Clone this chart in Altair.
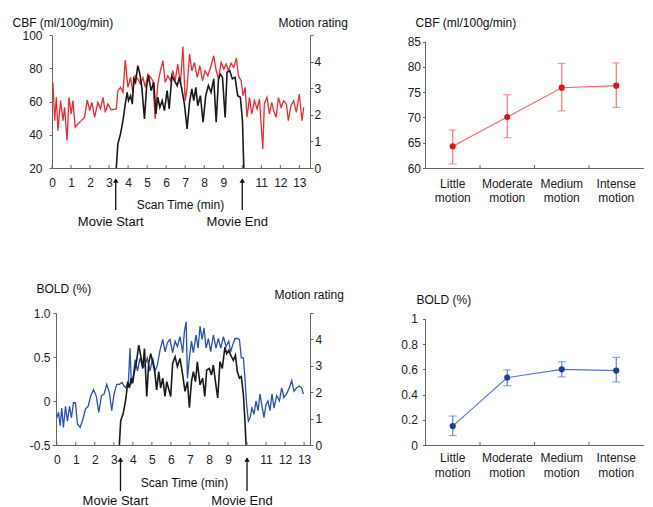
import altair as alt
import pandas as pd

FONT = "Liberation Sans, Arial, sans-serif"

# ---------------- data ----------------
time_ticks = list(range(14))
events = ["Movie Start", "Movie End"]
event_t = [3.35, 10.0]

cbf_t = [0.05, 0.14, 0.23, 0.31, 0.45, 0.58, 0.66, 0.79, 0.89, 1.01, 1.10, 1.22, 1.36, 1.54, 1.71, 1.85, 1.98,
         2.10, 2.24, 2.41, 2.55, 2.68, 2.80, 2.94, 3.11, 3.38, 3.46, 3.60, 3.73, 3.85, 3.99, 4.13, 4.25, 4.37,
         4.51, 4.65, 4.78, 4.90, 5.04, 5.18, 5.30, 5.42, 5.56, 5.70, 5.83, 5.95, 6.09, 6.23, 6.35, 6.47, 6.61,
         6.75, 6.88, 7.00, 7.10, 7.23, 7.35, 7.49, 7.63, 7.77, 7.91, 8.05, 8.19, 8.36, 8.50, 8.63, 8.75, 8.89,
         9.03, 9.15, 9.27, 9.41, 9.55, 9.69, 9.80, 9.94, 10.04, 10.15, 10.25, 10.38, 10.50, 10.64, 10.78, 10.90,
         11.08, 11.16, 11.30, 11.43, 11.55, 11.65, 11.78, 11.90, 12.04, 12.18, 12.32, 12.42, 12.56, 12.70,
         12.84, 13.00, 13.14, 13.23]
cbf_v = [71.5, 48.5, 62.5, 42.5, 60.5, 48.5, 56.5, 36.5, 62.5, 52.5, 60.5, 44.5, 46.5, 48.5, 50.5, 61, 54.5,
         59.5, 50.5, 59.5, 55.5, 62.5, 53.5, 58.5, 55, 55.5, 66.5, 68.5, 65.5, 85, 68.5, 74.5, 65.5, 75.5,
         73.5, 70.5, 74.5, 68.5, 76.5, 74.5, 72.5, 49.5, 70.5, 78.5, 84.5, 71.5, 75.5, 72.5, 78.5, 72.5, 82.5,
         70.5, 93, 60.5, 68.5, 88.5, 78.5, 83.5, 74.5, 81.5, 72.5, 78.5, 75.5, 81.5, 87.5, 78.5, 73.5, 83.5,
         79.5, 82.5, 78.5, 83, 80.5, 86, 75.5, 72.5, 63.5, 68.5, 50.5, 62.5, 52.5, 60.5, 55.5, 61.5,
         31.5, 58.5, 62.5, 52.5, 59.5, 54.5, 50.5, 62.5, 56.5, 60.5, 58.5, 48.5, 57.5, 60.5,
         53.5, 64.5, 48.5, 56.5]

motion1_t = [3.38, 3.46, 3.60, 3.73, 3.85, 3.95, 4.02, 4.13, 4.22, 4.30, 4.39, 4.51, 4.62, 4.72, 4.86, 4.97,
             5.07, 5.21, 5.35, 5.46, 5.56, 5.67, 5.79, 5.91, 6.05, 6.16, 6.30, 6.44, 6.58, 6.70, 6.82, 6.96,
             7.10, 7.23, 7.35, 7.45, 7.56, 7.66, 7.80, 7.94, 8.08, 8.22, 8.36, 8.50, 8.63, 8.75, 8.85, 8.96,
             9.10, 9.20, 9.34, 9.48, 9.62, 9.76, 9.90, 10.01, 10.08]
motion1_v = [0, 0.9, 1.28, 1.78, 2.4, 2.84, 2.53, 2.72, 2.4, 3.35, 3.22, 3.85, 3.53, 3.03, 1.84, 3.03,
             3.47, 2.91, 3.22, 2.03, 2.66, 2.28, 2.53, 2.16, 2.91, 2.22, 3.47, 3.28, 3.1, 3.41, 2.97, 2.4,
             1.47, 2.47, 2.97, 2.53, 3.03, 2.34, 2.72, 1.72, 2.72, 3.1, 2.84, 3.35, 1.72, 3.35, 3.53, 3.41,
             1.9, 3.6, 3.66, 3.35, 3.41, 2.72, 2.66, 1.78, 0]

bold_t = [0.00, 0.09, 0.18, 0.26, 0.35, 0.46, 0.56, 0.67, 0.77, 0.88, 0.98, 1.09, 1.23, 1.37, 1.51, 1.65,
          1.79, 1.93, 2.07, 2.21, 2.35, 2.49, 2.63, 2.77, 2.89, 3.01, 3.15, 3.29, 3.43, 3.54, 3.64, 3.77,
          3.85, 3.92, 4.03, 4.12, 4.24, 4.38, 4.52, 4.64, 4.76, 4.90, 5.04, 5.17, 5.29, 5.43, 5.57, 5.69,
          5.81, 5.95, 6.09, 6.22, 6.34, 6.48, 6.62, 6.71, 6.80, 6.87, 6.97, 7.08, 7.18, 7.32, 7.43, 7.53,
          7.64, 7.74, 7.85, 7.97, 8.09, 8.23, 8.37, 8.49, 8.62, 8.76, 8.90, 9.04, 9.14, 9.25, 9.37, 9.49,
          9.60, 9.70, 9.81, 9.89, 9.98, 10.07, 10.16, 10.26, 10.37, 10.47, 10.58, 10.68, 10.79, 10.89,
          11.00, 11.10, 11.21, 11.31, 11.42, 11.56, 11.70, 11.82, 11.94, 12.08, 12.22, 12.35, 12.47,
          12.61, 12.75, 12.87, 12.96]
bold_v = [-0.19, -0.13, -0.28, -0.08, -0.30, -0.06, -0.23, -0.06, -0.19, -0.02, -0.02, -0.26, -0.30, -0.21,
          -0.09, -0.06, 0.06, 0.13, 0.06, -0.13, 0.06, 0.08, 0.19, 0.09, -0.11, 0.08, 0.19, 0.19, 0.21, 0.17,
          0.15, 0.23, 0.60, 0.19, 0.30, 0.47, 0.34, 0.49, 0.38, 0.41, 0.49, 0.34, 0.49, 0.34, 0.41, 0.58,
          0.70, 0.56, 0.66, 0.70, 0.55, 0.68, 0.62, 0.73, 0.55, 0.79, 0.90, 0.26, 0.49, 0.68, 0.55, 0.75,
          0.60, 0.85, 0.70, 0.83, 0.60, 0.71, 0.56, 0.75, 0.60, 0.71, 0.60, 0.73, 0.62, 0.68, 0.56, 0.64,
          0.71, 0.71, 0.70, 0.49, 0.49, 0.26, -0.04, -0.23, -0.19, -0.08, -0.15, 0.00, -0.11, 0.08, -0.06,
          -0.19, -0.04, 0.00, -0.11, 0.08, -0.08, 0.06, 0.00, 0.15, 0.04, 0.08, 0.15, 0.23, 0.11, 0.15,
          0.17, 0.15, 0.08]

motion2_t = [3.29, 3.36, 3.50, 3.64, 3.73, 3.82, 3.91, 3.99, 4.08, 4.20, 4.31, 4.41, 4.52, 4.61, 4.73, 4.83,
             4.94, 5.04, 5.15, 5.25, 5.36, 5.46, 5.57, 5.69, 5.78, 5.87, 5.99, 6.09, 6.22, 6.34, 6.48, 6.62,
             6.74, 6.87, 6.97, 7.08, 7.18, 7.29, 7.39, 7.53, 7.67, 7.78, 7.88, 8.02, 8.13, 8.23, 8.34, 8.46,
             8.58, 8.70, 8.84, 8.93, 9.04, 9.14, 9.28, 9.39, 9.49, 9.60, 9.70, 9.81, 9.89, 9.95]
motion2_v = [0, 0.91, 1.22, 1.78, 2.4, 2.16, 2.53, 2.34, 2.78, 3.21, 3.78, 3.4, 2.9, 3.65, 1.84, 3.09,
             3.46, 3.15, 2.78, 2.09, 2.78, 2.16, 2.53, 1.84, 2.4, 2.16, 1.84, 3.09, 3.34, 2.97, 3.28, 2.65,
             2.03, 2.4, 1.41, 2.4, 2.78, 2.4, 3.15, 2.28, 2.53, 1.84, 2.84, 2.9, 2.65, 3.03, 2.4, 1.78,
             3.15, 2.9, 3.71, 3.46, 3.59, 3.4, 3.21, 3.4, 2.78, 2.53, 2.59, 1.91, 0.91, 0]

categories = ["Little motion", "Moderate motion", "Medium motion", "Intense motion"]
cbf_mean = [64.3, 70.1, 75.9, 76.3]
cbf_lo = [60.8, 66.0, 71.3, 72.0]
cbf_hi = [67.5, 74.5, 80.7, 80.8]
bold_mean = [0.15, 0.535, 0.60, 0.59]
bold_lo = [0.075, 0.47, 0.54, 0.50]
bold_hi = [0.23, 0.595, 0.66, 0.695]

LEFT_W = 258
RIGHT_W = 218


def time_panel(sig_t, sig_v, mot_t, mot_v, color, h, xdom, ydom, yvals, ylab_expr, ytitle,
               ytx, yty, ypad, yoff, rtx, rty, rpad, xtx, xty, tip, end, text_rel):
    sig_df = pd.DataFrame({"t": sig_t, "v": sig_v})
    mot_df = pd.DataFrame({"t": mot_t, "m": mot_v})
    ev_df = pd.DataFrame({"t": event_t, "label": events})
    tk_df = pd.DataFrame({"t": time_ticks})

    x = alt.X("t:Q", scale=alt.Scale(domain=xdom, nice=False, zero=False),
              axis=alt.Axis(values=time_ticks, labelExpr="datum.value == 10 ? '' : datum.label",
                            ticks=False, tickSize=0, labelPadding=9, labelOverlap=False,
                            labelFlush=False, title="Scan Time (min)", titleX=xtx, titleY=xty,
                            titleAlign="center", titleBaseline="middle"))
    sig = alt.Chart(sig_df).mark_line(color=color, strokeWidth=1.3).encode(
        x=x,
        y=alt.Y("v:Q", scale=alt.Scale(domain=ydom, nice=False, zero=False),
                axis=alt.Axis(values=yvals, labelExpr=ylab_expr, tickSize=3, labelPadding=ypad,
                              offset=yoff, title=ytitle, titleAngle=0, titleAlign="left",
                              titleBaseline="middle", titleX=ytx, titleY=yty)))
    mot = alt.Chart(mot_df).mark_line(color="#1a1a1a", strokeWidth=1.6).encode(
        x=x,
        y=alt.Y("m:Q", scale=alt.Scale(domain=[0, 5], nice=False, zero=True),
                axis=alt.Axis(orient="right", values=[0, 1, 2, 3, 4, 5],
                              labelExpr="datum.value == 5 ? '' : datum.label", tickSize=3,
                              labelPadding=rpad, title="Motion rating", titleAngle=0,
                              titleAlign="left", titleBaseline="middle", titleX=rtx, titleY=rty)))
    tk = alt.Chart(tk_df).mark_rule(color="#666", strokeWidth=1).encode(
        x=x, y=alt.value(h), y2=alt.value(h - 3))
    arrow = alt.Chart(ev_df).mark_rule(color="#111", strokeWidth=1.3).encode(
        x=x, y=alt.value(h + tip + 5), y2=alt.value(h + end))
    head = alt.Chart(ev_df).mark_point(shape="triangle-up", filled=True, color="#111", size=30,
                                       opacity=1).encode(x=x, y=alt.value(h + tip + 3.5))
    txt = alt.Chart(ev_df).mark_text(fontSize=13, dx=-5, baseline="middle", color="#111",
                                     font=FONT).encode(x=x, y=alt.value(h + text_rel),
                                                       text="label:N")
    return alt.layer(sig, mot, tk, arrow, head, txt).resolve_scale(y="independent").properties(
        width=LEFT_W, height=h)


def cat_panel(mean, lo, hi, line_color, pt_color, h, ydom, ytop, yvals, yfmt, title, ttx, tty,
              ypad, xpad, lineh):
    df = pd.DataFrame({"cat": categories, "mean": mean, "lo": lo, "hi": hi})
    base = alt.Chart(df)
    step = RIGHT_W / len(categories)
    x = alt.X("cat:N", sort=categories, scale=alt.Scale(paddingInner=0, paddingOuter=0),
              axis=alt.Axis(title=None, labelAngle=0, labelExpr="split(datum.label, ' ')",
                            ticks=False, tickSize=0, labelPadding=xpad, labelLineHeight=lineh,
                            labelBaseline="top"))
    yscale = alt.Scale(domain=ydom, nice=False, zero=False)
    yaxis = alt.Axis(values=yvals, format=yfmt, domain=False, tickSize=3, labelPadding=ypad,
                     labelOverlap=False, title=title, titleAngle=0, titleAlign="left",
                     titleBaseline="middle", titleX=ttx, titleY=tty)
    y = alt.Y("mean:Q", scale=yscale, axis=yaxis)
    yaxis_line = base.transform_filter("datum.cat == 'Little motion'").mark_rule(
        color="#666", strokeWidth=1).encode(x=alt.value(0), y=alt.Y(datum=ydom[0], axis=yaxis),
                                            y2=alt.Y2(datum=ytop))
    cat_ticks = base.transform_filter("datum.cat != 'Little motion'").mark_rule(
        color="#666", strokeWidth=1, xOffset=-step / 2).encode(x=x, y=alt.value(h), y2=alt.value(h - 3))
    line = base.mark_line(color=line_color, strokeWidth=1.1).encode(x=x, y=y)
    err = base.mark_rule(color=line_color, strokeWidth=1.1).encode(
        x=x, y=alt.Y("lo:Q", axis=yaxis), y2="hi:Q")
    cap_lo = base.mark_tick(color=line_color, size=8, thickness=1.1).encode(
        x=x, y=alt.Y("lo:Q", axis=yaxis))
    cap_hi = base.mark_tick(color=line_color, size=8, thickness=1.1).encode(
        x=x, y=alt.Y("hi:Q", axis=yaxis))
    pts = base.mark_circle(color=pt_color, size=38, opacity=1).encode(x=x, y=y)
    return alt.layer(line, yaxis_line, cat_ticks, err, cap_lo, cap_hi, pts).properties(
        width=RIGHT_W, height=h)


top_left = time_panel(cbf_t, cbf_v, motion1_t, motion1_v, "#ee2b30", 133, [0, 13.56], [20, 100],
                      [20, 40, 60, 80, 100], "datum.label", "CBF (ml/100g/min)", -40, -12.5, 7, 0,
                      -32, -12.5, 1, 128, 36.5, 9, 42, 53.7)
bottom_left = time_panel(bold_t, bold_v, motion2_t, motion2_v, "#2b4fb3", 132, [-0.25, 13.31],
                         [-0.5, 1.0], [-0.5, 0, 0.5, 1.0],
                         "datum.value == 0 ? '0' : (datum.value < 0 ? '-' + format(-datum.value, '.1f') : format(datum.value, '.1f'))",
                         "BOLD (%)", -20, -25, 3, -4, -36, -19, 2, 132, 37.7, 11, 46, 56)
top_right = cat_panel(cbf_mean, cbf_lo, cbf_hi, "#f26a6a", "#e8101e", 133, [60, 86.33], 85,
                      [60, 65, 70, 75, 80, 85], "d", "CBF (ml/100g/min)", -10.5, -12.3, 2, 10, 14)
bottom_right = cat_panel(bold_mean, bold_lo, bold_hi, "#5b76cc", "#1f3c9c", 132, [0, 1.047], 1,
                         [0, 0.2, 0.4, 0.6, 0.8, 1], "~g", "BOLD (%)", -9.5, -14, 5, 7, 15)

chart = alt.concat(top_left, top_right, bottom_left, bottom_right, columns=2,
                   spacing={"row": 145, "column": 115.5}, bounds="flush").properties(
    padding={"left": 4, "top": 8, "right": 0, "bottom": 0}
).configure_view(stroke=None).configure_axis(
    labelFont=FONT, titleFont=FONT, labelFontSize=12, titleFontSize=12, labelColor="#222",
    titleColor="#111", titleFontWeight="normal", domainColor="#666", tickColor="#666", grid=False
).configure_text(font=FONT)

chart.save("out.html", embed_options={"renderer": "svg", "actions": False})
